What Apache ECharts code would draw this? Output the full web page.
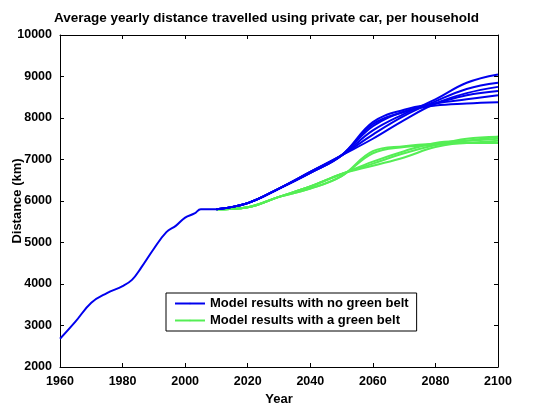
<!DOCTYPE html>
<html><head><meta charset="utf-8">
<script src="https://cdn.jsdelivr.net/npm/echarts@6/dist/echarts.min.js"></script>
<style>html,body{margin:0;background:#fff}#c{width:533px;height:405px}</style>
</head><body><div id="c"></div>
<script>
const histYears = [1960,1965,1970,1975,1980,1983,1986,1990,1994,1997,2000,2003,2005,2008,2010]
const histVals = [2680,3100,3550,3780,3950,4100,4400,4850,5250,5400,5600,5700,5800,5800,5800]
const scenYears = [2010,2020,2030,2040,2050,2060,2070,2080,2090,2100]
const noBelt = [
  [5800,5950,6300,6700,7100,7700,8100,8450,8850,9050],
  [5800,5950,6300,6700,7100,7600,8050,8400,8700,8850],
  [5800,5950,6300,6700,7100,7500,7950,8350,8600,8750],
  [5800,5950,6300,6680,7100,7850,8150,8350,8550,8650],
  [5800,5950,6300,6680,7100,7900,8200,8350,8450,8550],
  [5800,5950,6300,6680,7100,7800,8150,8300,8350,8380]
]
const withBelt = [
  [5800,5850,6100,6300,6600,7150,7300,7350,7450,7550],
  [5800,5850,6100,6300,6600,7200,7320,7380,7400,7450],
  [5800,5850,6100,6350,6650,6900,7150,7350,7500,7550],
  [5800,5850,6100,6350,6650,6850,7050,7300,7400,7400],
  [5800,5850,6100,6350,6650,6950,7200,7400,7450,7500]
]
const blue = '#0000ee', green = '#55ee55'
const pair = (xs, ys) => xs.map((x, i) => [x, ys[i]])
const line = (name, data, color) => ({
  name, type: 'line', data, smooth: 0.4, showSymbol: false, symbol: 'none',
  lineStyle: { color, width: 2 }, itemStyle: { color }, animation: false
})
const series = []
withBelt.forEach(v => series.push(line('Model results with a green belt', pair(scenYears, v), green)))
noBelt.forEach(v => series.push(line('Model results with no green belt', pair(scenYears, v), blue)))
series.push(line('hist', pair(histYears, histVals), blue))

const font = 'Liberation Sans'
const ax = {
  axisLine: { show: true, onZero: false, lineStyle: { color: '#000' } },
  axisTick: { inside: true, length: 4, lineStyle: { color: '#000' } },
  axisLabel: { color: '#000', fontWeight: 'bold', fontSize: 12.5, fontFamily: font, formatter: v => String(v) },
  splitLine: { show: false },
  nameTextStyle: { color: '#000', fontWeight: 'bold', fontSize: 13, fontFamily: font }
}
const mirror = (extra) => Object.assign({}, ax, { axisLabel: { show: false }, name: '' }, extra)
const chart = echarts.init(document.getElementById('c'))
chart.setOption({
  title: { text: 'Average yearly distance travelled using private car, per household', left: 'center', top: 6,
    textStyle: { fontSize: 13.5, fontWeight: 'bold', color: '#000', fontFamily: font } },
  grid: { left: 60, right: 35, top: 35, bottom: 38, outerBoundsMode: 'none', containLabel: false },
  legend: {
    data: ['Model results with no green belt', 'Model results with a green belt'],
    orient: 'vertical', left: 166, top: 293, itemGap: 4, itemWidth: 30, itemHeight: 2,
    backgroundColor: '#fff', borderColor: '#000', borderWidth: 1, padding: [4, 8],
    textStyle: { fontWeight: 'bold', fontSize: 13, color: '#000', fontFamily: font }
  },
  xAxis: [
    Object.assign({ type: 'value', min: 1960, max: 2100, interval: 20, name: 'Year',
      nameLocation: 'middle', nameGap: 22 }, ax),
    mirror({ type: 'value', min: 1960, max: 2100, interval: 20, position: 'top' })
  ],
  yAxis: [
    Object.assign({ type: 'value', min: 2000, max: 10000, interval: 1000, name: 'Distance (km)',
      nameLocation: 'middle', nameGap: 36, nameMoveOverlap: false }, ax),
    mirror({ type: 'value', min: 2000, max: 10000, interval: 1000, position: 'right' })
  ],
  series
})
</script></body></html>
